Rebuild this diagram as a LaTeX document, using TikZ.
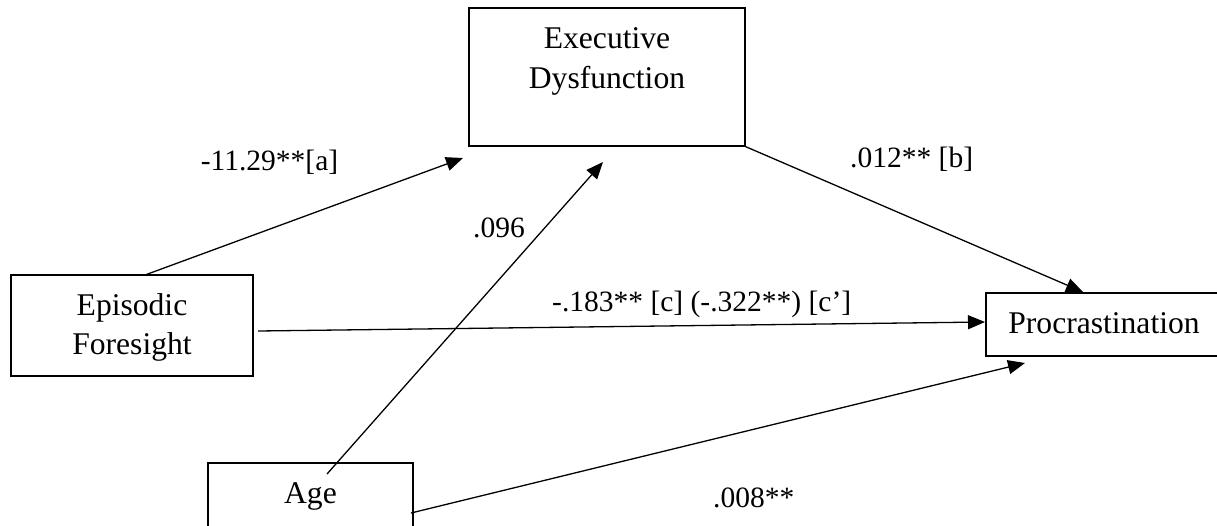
\documentclass[tikz,border=0pt]{standalone}
\usepackage{fontspec}
\setmainfont{Liberation Serif}
\usetikzlibrary{arrows.meta}
\begin{document}
\begin{tikzpicture}[x=1pt,y=-1pt,
  box/.style={draw,line width=1.3pt,inner sep=0pt},
  txt/.style={font=\fontsize{31.6}{39}\selectfont,inner sep=0pt,anchor=base},
  lab/.style={font=\fontsize{29.5}{35}\selectfont,inner sep=0pt},
  conn/.style={line width=1.3pt,-{Triangle[length=17pt,width=14pt]}},
  plainline/.style={line width=1.3pt}]
\useasboundingbox (0,0) rectangle (1217,525);
\clip (0,0) rectangle (1217,525);
% boxes
\node[box,minimum width=276pt,minimum height=138pt] (ed) at (607,77) {};
\node[box,minimum width=242pt,minimum height=101pt] (ef) at (132,325.5) {};
\node[box,minimum width=205pt,minimum height=82pt] (age) at (310.5,504) {};
\node[box,minimum width=236pt,minimum height=63pt] (proc) at (1104,324.5) {};
% box texts
\node[txt] (edt1) at (607,48) {Executive};
\node[txt] (edt2) at (607,88) {Dysfunction};
\node[txt] (eft1) at (132,315) {Episodic};
\node[txt] (eft2) at (132,354) {Foresight};
\node[txt] (aget) at (310.5,503) {Age};
\node[txt] (proct) at (1104,333) {Procrastination};
% connector end points
\coordinate (a0) at (145,275);
\coordinate (a1) at (463,158);
\coordinate (b0) at (327,474);
\coordinate (b1) at (603,162);
\coordinate (c1) at (1083,292);
\coordinate (d0) at (258,331);
\coordinate (d1) at (985,322);
\coordinate (e0) at (411,513);
\coordinate (e1) at (1025,363);
% connectors
\draw[conn] (a0) -- (a1);
\draw[conn] (b0) -- (b1);
\draw[conn] (ed.south east) -- (c1);
\draw[conn] (d0) -- (d1);
\draw[conn] (e0) -- (e1);
% labels
\node[lab,anchor=base] (la) at (269.5,170) {-11.29**[a]};
\node[lab,anchor=base] (lb) at (499,237) {.096};
\node[lab,anchor=base west] (lc) at (850,167) {.012** [b]};
\node[lab,anchor=base west] (ld) at (552,311) {-.183** [c] (-.322**) [c’]};
\node[lab,anchor=base west] (le) at (713,507) {.008**};
\end{tikzpicture}
\end{document}
